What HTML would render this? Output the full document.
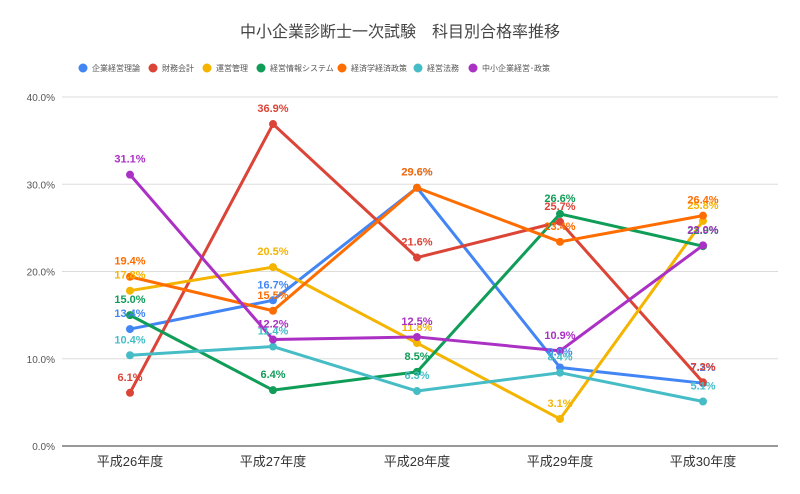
<!DOCTYPE html>
<html><head><meta charset="utf-8"><style>
body{margin:0;background:#fff;}
svg{display:block;font-family:"Liberation Sans","Noto Sans CJK JP",sans-serif;}
</style></head><body>
<svg id="c" width="800" height="494" viewBox="0 0 800 494" xmlns="http://www.w3.org/2000/svg">
<rect width="800" height="494" fill="#fff"/>
<text x="400" y="37" text-anchor="middle" font-size="16" fill="#444">中小企業診断士一次試験　科目別合格率推移</text>
<g id="grid"></g><g id="leg"></g><g id="ser"></g><g id="lab"></g>
</svg>
<script>
const ns="http://www.w3.org/2000/svg";
function el(p,t,a,txt){const e=document.createElementNS(ns,t);for(const k in a)e.setAttribute(k,a[k]);if(txt!=null)e.textContent=txt;p.appendChild(e);return e;}
const Y=v=>446-v*8.725, X=[130,273,417,560,703];
const g=document.getElementById('grid');
for(let i=0;i<=4;i++){const y=Y(i*10);el(g,'line',{x1:62,x2:778,y1:y,y2:y,stroke:i==0?'#333':'#ddd','stroke-width':1});
el(g,'text',{x:55,y:y+4,'text-anchor':'end','font-size':10,fill:'#555'},(i*10)+'.0%');}
const yrs=['平成26年度','平成27年度','平成28年度','平成29年度','平成30年度'];
yrs.forEach((t,i)=>el(g,'text',{x:X[i],y:466,'text-anchor':'middle','font-size':13,fill:'#333'},t));
const S=[
['企業経営理論','#4285f4',[13.4,16.7,29.6,9.0,7.2]],
['財務会計','#db4437',[6.1,36.9,21.6,25.7,7.3]],
['運営管理','#f4b400',[17.8,20.5,11.8,3.1,25.8]],
['経営情報システム','#0f9d58',[15.0,6.4,8.5,26.6,22.9]],
['経済学経済政策','#ff6d00',[19.4,15.5,29.6,23.4,26.4]],
['経営法務','#46bdc6',[10.4,11.4,6.3,8.4,5.1]],
['中小企業経営･政策','#ab30c4',[31.1,12.2,12.5,10.9,23.0]]];
const lx=[83,153,207,261,342,418,473];
const lg=document.getElementById('leg');
S.forEach((s,i)=>{el(lg,'circle',{cx:lx[i],cy:68,r:4.5,fill:s[1]});el(lg,'text',{x:lx[i]+9,y:71,'font-size':8,fill:'#555'},s[0]);});
const sg=document.getElementById('ser'),lb=document.getElementById('lab');
S.forEach(s=>{el(sg,'polyline',{points:s[2].map((v,i)=>X[i]+','+Y(v)).join(' '),fill:'none',stroke:s[1],'stroke-width':3,'stroke-linejoin':'round'});
s[2].forEach((v,i)=>{el(sg,'circle',{cx:X[i],cy:Y(v),r:4,fill:s[1]});
el(lb,'text',{x:X[i],y:Y(v)-12,'text-anchor':'middle','font-size':11,'font-weight':'bold',fill:s[1]},v.toFixed(1)+'%');});});
</script>
</body></html>
